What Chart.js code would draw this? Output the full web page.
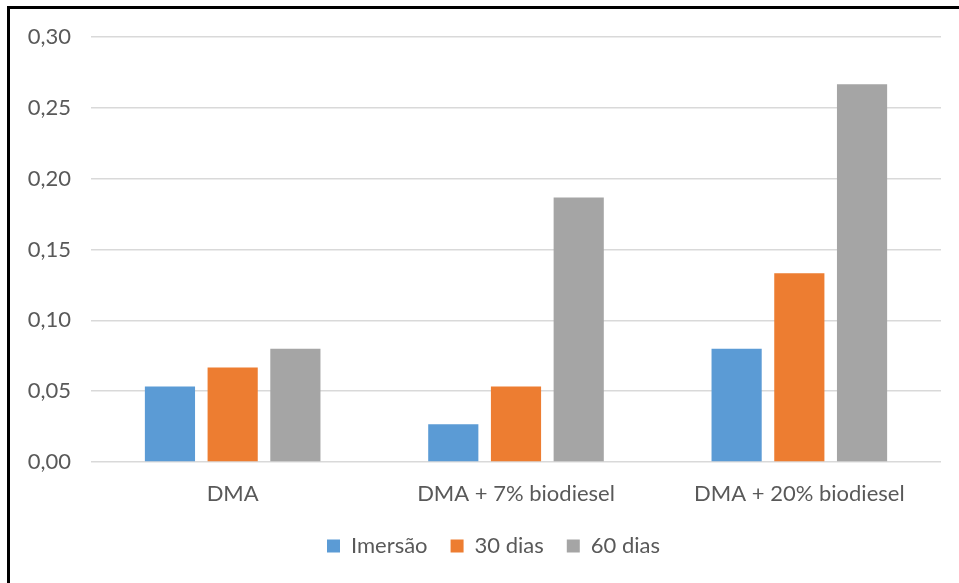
<!DOCTYPE html>
<html lang="pt">
<head>
<meta charset="utf-8">
<title>Variação por período de imersão</title>
<script src="https://cdn.jsdelivr.net/npm/chart.js@4.4.1/dist/chart.umd.min.js"></script>
<style>
  html, body { margin: 0; padding: 0; background: #ffffff; }
  #wrap { position: relative; width: 959px; height: 583px; overflow: hidden; }
  #frame {
    position: absolute; left: 7px; top: 6px; right: 0; bottom: 0;
    border-left: 3px solid #000000; border-top: 3px solid #000000;
    pointer-events: none;
  }
  canvas { display: block; }
</style>
</head>
<body>
<div id="wrap">
  <canvas id="chart" width="959" height="583"></canvas>
  <div id="frame"></div>
</div>
<script>
// Categories (fuel blends) and the three measurement series
const categories = ['DMA', 'DMA + 7% biodiesel', 'DMA + 20% biodiesel'];
const seriesNames = ['Imersão', '30 dias', '60 dias'];
const imersao = [0.0533, 0.0267, 0.0800];
const dias30  = [0.0667, 0.0533, 0.1333];
const dias60  = [0.0800, 0.1867, 0.2667];

// Value axis range
const yMin = 0;
const yMax = 0.30;
const yStep = 0.05;

const colors = ['#5B9BD5', '#ED7D31', '#A5A5A5'];
const textColor = '#595959';
const gridColor = '#D9D9D9';
const fontFamily = 'Lato, "Noto Sans", sans-serif';

// Moves the legend sideways so it sits centred under the chart body
const legendShift = {
  id: 'legendShift',
  afterLayout(chart) {
    const lg = chart.legend;
    if (lg) { lg.left += 23; lg.right += 23; }
  }
};

new Chart(document.getElementById('chart'), {
  type: 'bar',
  data: {
    labels: categories,
    datasets: [imersao, dias30, dias60].map((values, i) => ({
      label: seriesNames[i],
      data: values,
      backgroundColor: colors[i],
      borderWidth: 0,
      categoryPercentage: 0.664,
      barPercentage: 0.8
    }))
  },
  options: {
    responsive: false,
    animation: false,
    devicePixelRatio: 1,
    layout: { padding: { left: 0, top: 37, right: 18, bottom: 16 } },
    scales: {
      x: {
        grid: { display: false, drawTicks: false },
        border: { display: false },
        ticks: {
          color: textColor,
          padding: 19,
          font: { family: fontFamily, size: 22 }
        },
        afterFit(scale) { scale.height = 50; }
      },
      y: {
        min: yMin,
        max: yMax,
        grid: { color: gridColor, lineWidth: 1.5, drawTicks: false },
        border: { display: false },
        ticks: {
          stepSize: yStep,
          color: textColor,
          padding: 20,
          font: { family: fontFamily, size: 22 },
          callback: (v) => Number(v).toFixed(2).replace('.', ',')
        },
        afterFit(scale) { scale.width = 91; }
      }
    },
    plugins: {
      legend: {
        position: 'bottom',
        labels: {
          boxWidth: 13,
          boxHeight: 13,
          padding: 23,
          color: textColor,
          font: { family: fontFamily, size: 22 }
        }
      },
      tooltip: { enabled: false }
    }
  },
  plugins: [legendShift]
});
</script>
</body>
</html>
